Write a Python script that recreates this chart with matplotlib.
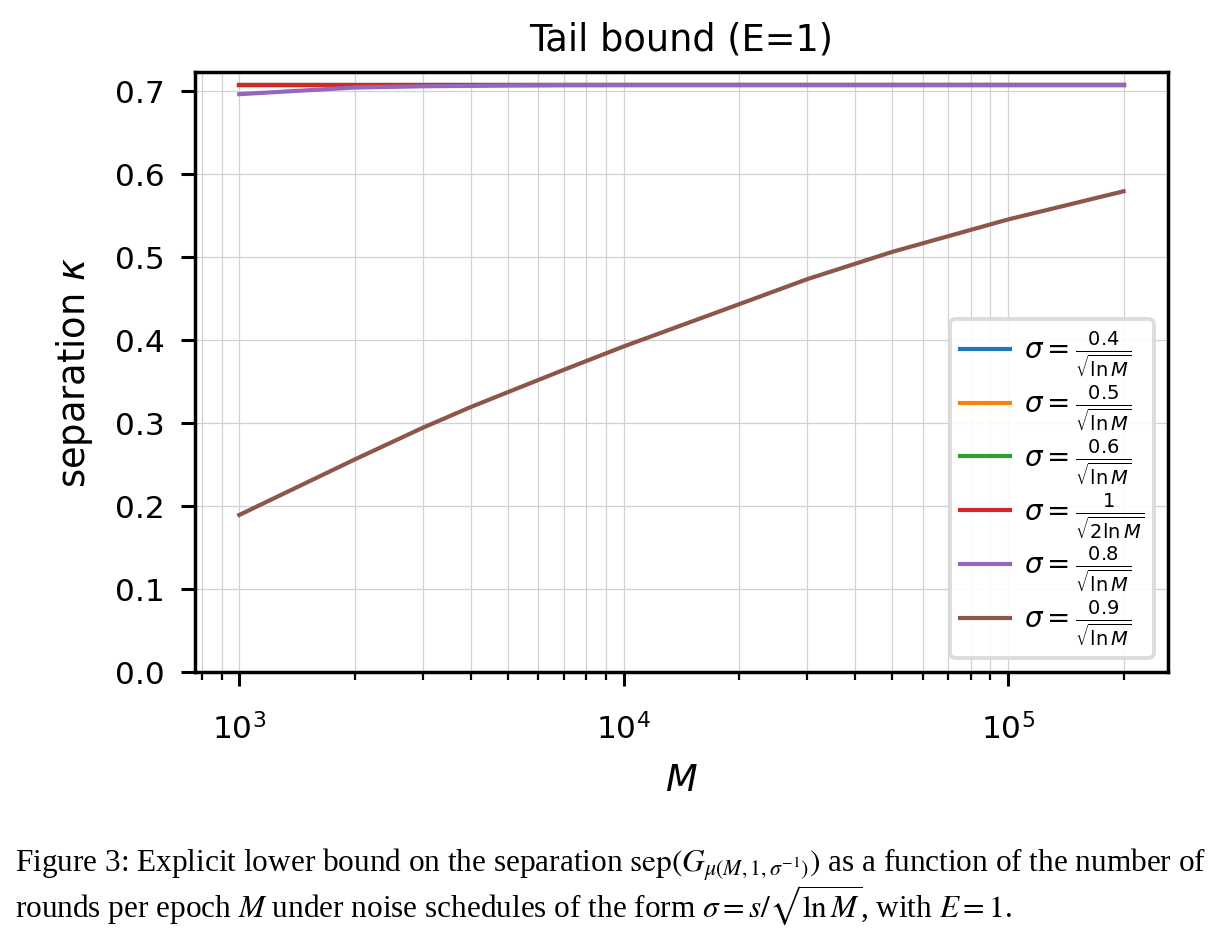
import numpy as np
import matplotlib.pyplot as plt

# values
M_vals = [1000, 2000, 3000, 4000, 5000, 7000, 10000, 20000, 30000, 50000, 100000, 200000]
flat_vals = [0.7071] * len(M_vals)
kappa_08 = [0.696, 0.704, 0.7055, 0.706, 0.7065, 0.707, 0.7071, 0.7071, 0.7071, 0.7071, 0.7071, 0.7071]
kappa_09 = [0.189, 0.256, 0.294, 0.319, 0.337, 0.364, 0.392, 0.443, 0.473, 0.506, 0.545, 0.579]

labels = [r'$\sigma = \frac{0.4}{\sqrt{\ln M}}$',
          r'$\sigma = \frac{0.5}{\sqrt{\ln M}}$',
          r'$\sigma = \frac{0.6}{\sqrt{\ln M}}$',
          r'$\sigma = \frac{1}{\sqrt{2\ln M}}$',
          r'$\sigma = \frac{0.8}{\sqrt{\ln M}}$',
          r'$\sigma = \frac{0.9}{\sqrt{\ln M}}$']
series = [flat_vals, flat_vals, flat_vals, flat_vals, kappa_08, kappa_09]

fig = plt.figure(figsize=(12.19, 9.45), dpi=100)
ax = fig.add_axes([0.160, 0.288, 0.798, 0.635])

for vals, lab in zip(series, labels):
    ax.plot(M_vals, vals, lw=3.0, label=lab)

ax.set_xscale('log')
ax.set_ylim(0, 0.723)
ax.grid(True, which='both', color='0.82', lw=0.9)
ax.set_axisbelow(True)

for s in ax.spines.values():
    s.set_linewidth(2.5)
ax.tick_params(which='major', length=10, width=2.2, labelsize=22.5)
ax.tick_params(axis='x', which='major', pad=19)
ax.tick_params(axis='y', which='major', pad=12)
ax.tick_params(which='minor', length=5.5, width=1.6)

ax.set_title('Tail bound (E=1)', fontsize=26.5, pad=16)
ax.set_xlabel('$M$', fontsize=26.5, labelpad=12)
ax.set_ylabel(r'separation $\kappa$', fontsize=26.5, labelpad=14)

leg = ax.legend(loc='lower right', fontsize=20, framealpha=0.9, handlelength=1.8,
                labelspacing=0.12, borderpad=0.35, handletextpad=0.5,
                borderaxespad=0.5)
leg.get_frame().set_linewidth(2.8)
leg.get_frame().set_edgecolor('0.85')

# caption under the plot, one text object with two lines
caption = (r'Figure 3: Explicit lower bound on the separation '
           r'$\mathrm{sep}\left(G_{\mu(M,1,\sigma^{-1})}\right)$ as a function of the number of'
           '\n'
           r'rounds per epoch $M$ under noise schedules of the form $\sigma = s/\sqrt{\ln M}$, with $E = 1$.')
fig.text(0.012, 0.030, caption, fontsize=22.5, family='Liberation Serif',
         math_fontfamily='stix', va='baseline', linespacing=0.975)

fig.savefig('out.png', dpi=100)
